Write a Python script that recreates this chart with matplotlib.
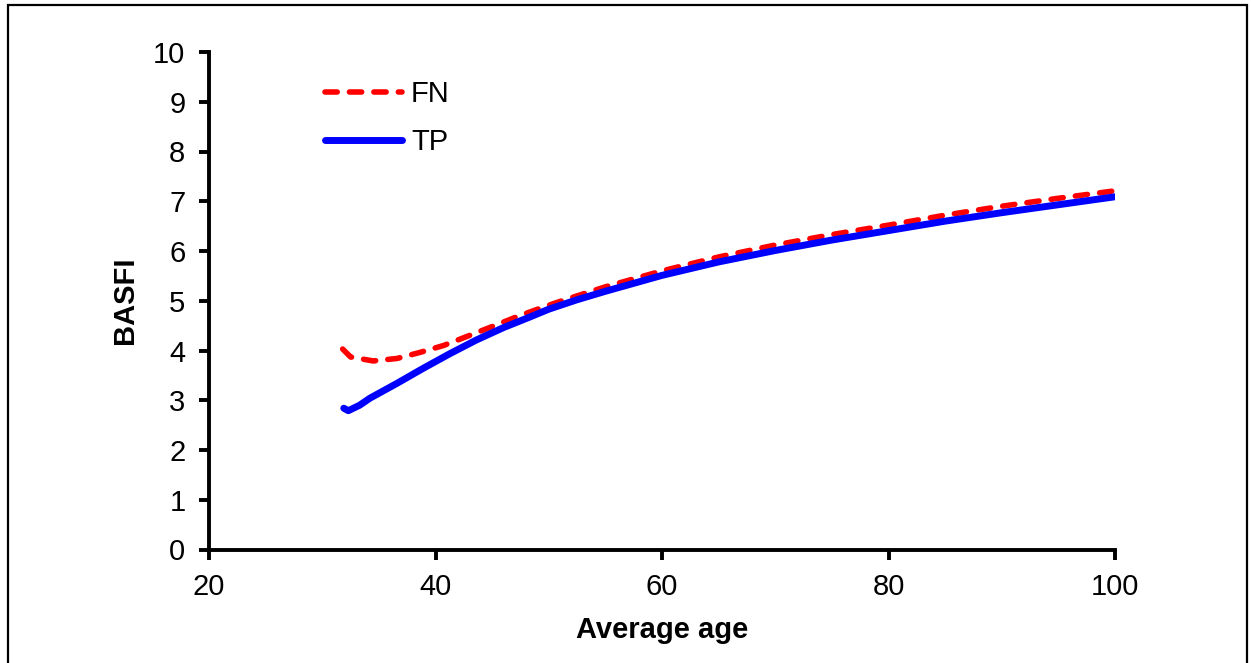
import matplotlib
matplotlib.use("Agg")
import matplotlib.pyplot as plt
from matplotlib.patches import Rectangle

plt.rcParams['font.family'] = ['Liberation Sans', 'DejaVu Sans']

# Data
fn_age = [31.8, 32.5, 34.5, 36.6, 38.6, 40.7, 42.75, 45.1, 47.2, 49.5, 51.3,
          55, 60, 65, 70, 75, 80, 85, 90, 95, 100]
fn_basfi = [4.03, 3.87, 3.79, 3.84, 3.96, 4.10, 4.28, 4.49, 4.68, 4.87, 5.01,
            5.28, 5.60, 5.88, 6.12, 6.33, 6.52, 6.72, 6.90, 7.06, 7.21]

tp_age = [31.9, 32.3, 33.3, 34.2, 36.6, 38.9, 41.3, 43.6, 46.0, 48.3, 50,
          52.5, 55, 57.5, 60, 65, 70, 75, 80, 85, 90, 95, 100]
tp_basfi = [2.84, 2.79, 2.90, 3.04, 3.34, 3.64, 3.94, 4.21, 4.46, 4.67, 4.83,
            5.02, 5.19, 5.35, 5.51, 5.78, 6.01, 6.22, 6.41, 6.60, 6.77, 6.93, 7.09]

x_ticks = [20, 40, 60, 80, 100]
y_ticks = list(range(0, 11))

fig = plt.figure(figsize=(12.51, 6.63), dpi=100)
ax = fig.add_axes([209/1251, 1-549.5/663, (1115-209)/1251, (549.5-52)/663])

ax.plot(fn_age, fn_basfi, color='#ff0000', lw=4.0, linestyle=(0, (2.2, 2.2)),
        dash_capstyle='round', solid_capstyle='round', label='FN')
ax.plot(tp_age, tp_basfi, color='#0000ff', lw=5.0, solid_capstyle='round',
        label='TP')

ax.set_xlim(20, 100)
ax.set_ylim(0, 10)
ax.set_xticks(x_ticks)
ax.set_yticks(y_ticks)
for s in ['top', 'right']:
    ax.spines[s].set_visible(False)
for s in ['left', 'bottom']:
    ax.spines[s].set_linewidth(2.8)
    ax.spines[s].set_capstyle('projecting')
ax.tick_params(direction='out', length=7, width=2.8, labelsize=21)
ax.tick_params(axis='y', pad=10)
ax.tick_params(axis='x', pad=10)

ax.set_xlabel('Average age', fontsize=21, fontweight='bold', labelpad=11)
ax.set_ylabel('BASFI', fontsize=21, fontweight='bold', labelpad=10)

leg = ax.legend(loc='upper left', bbox_to_anchor=(0.128, 0.943), frameon=False,
                fontsize=21, handlelength=2.65, handletextpad=0.3,
                labelspacing=0.68, borderpad=0, borderaxespad=0)

fig.add_artist(Rectangle((8/1251, -0.05), (1247-8)/1251, 1.05 - 5/663,
                         transform=fig.transFigure, fill=False,
                         edgecolor='black', lw=1.6))

fig.savefig('out.png', dpi=100)
